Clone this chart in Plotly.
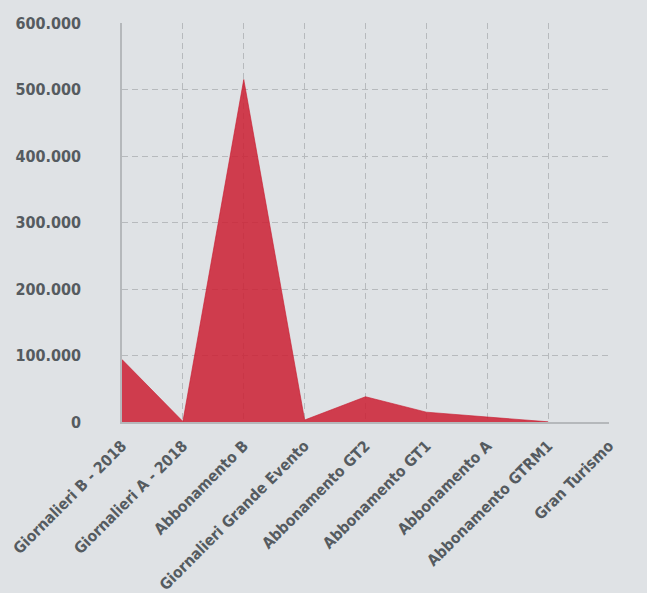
import plotly.graph_objects as go

categories = ["Giornalieri B - 2018", "Giornalieri A - 2018", "Abbonamento B",
              "Giornalieri Grande Evento", "Abbonamento GT2", "Abbonamento GT1",
              "Abbonamento A", "Abbonamento GTRM1", "Gran Turismo"]
values = [94000, 800, 515000, 3000, 38000, 14800, 7500, 300, None]
y_ticks = [0, 100000, 200000, 300000, 400000, 500000, 600000]

font_family = "DejaVu Sans Condensed"
text_color = "#555b60"
bg = "#dfe2e5"
grid = "#b7babd"

fig = go.Figure()
fig.add_trace(go.Scatter(
    x=categories, y=values, mode="lines", fill="tozeroy",
    fillcolor="rgba(204,30,50,0.85)",
    line=dict(color="rgba(200,25,45,0.6)", width=1),
    hoverinfo="x+y",
))

fig.update_layout(
    width=647, height=593,
    paper_bgcolor=bg, plot_bgcolor=bg,
    margin=dict(l=122, r=38, t=23, b=171),
    separators=",.",
    showlegend=False,
    font=dict(family=font_family, color=text_color, size=15),
)
fig.update_xaxes(
    type="category", range=[0, len(categories) - 1], automargin=False,
    tickangle=-45, tickfont=dict(family=font_family, size=15.5, color=text_color, weight="bold"),
    showgrid=True, gridcolor=grid, griddash="6px,4px", gridwidth=1,
    showline=True, linecolor="#b5b8bb", linewidth=1.5,
    ticks="outside", ticklen=7, tickcolor=bg, zeroline=False,
)
fig.update_yaxes(
    range=[0, 600000], tickvals=y_ticks, tickformat=",d", automargin=False,
    tickfont=dict(family=font_family, size=16, color=text_color, weight="bold"),
    showgrid=True, gridcolor=grid, griddash="6px,4px", gridwidth=1,
    showline=True, linecolor="#b5b8bb", linewidth=1.5,
    zeroline=False, ticks="outside", ticklen=36, tickcolor=bg,
)

post = ("document.body.style.margin='0';document.body.style.padding='0';"
        "document.body.style.background='%s';document.documentElement.style.background='%s';" % (bg, bg))
fig.write_html("out.html", post_script=post, config={"displayModeBar": False})
